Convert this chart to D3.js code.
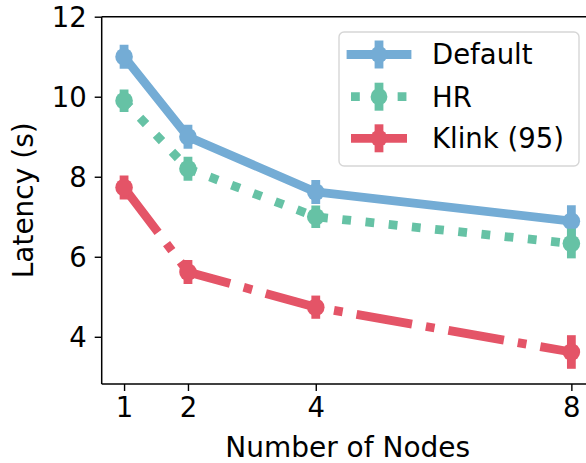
<!DOCTYPE html>
<html>
<head>
<meta charset="utf-8">
<script src="https://cdn.jsdelivr.net/npm/d3@7"></script>
<style>
  body { margin: 0; background: #fff; }
  text { font-family: "DejaVu Sans", sans-serif; fill: #000; }
</style>
</head>
<body>
<svg id="chart" width="586" height="463"></svg>
<script>
// data
const nodes = [1, 2, 4, 8]
const xTicks = [1, 2, 4, 8]
const yTicks = [4, 6, 8, 10, 12]

const seriesNames = ["Default", "HR", "Klink (95)"]
const defaultLat = [11.0, 9.0, 7.62, 6.89]
const defaultErr = [0.3, 0.3, 0.3, 0.4]
const hrLat = [9.9, 8.2, 7.0, 6.33]
const hrErr = [0.28, 0.3, 0.28, 0.37]
const klinkLat = [7.73, 5.62, 4.74, 3.62]
const klinkErr = [0.3, 0.3, 0.29, 0.42]

const colors = ["#74acd5", "#66c2a5", "#e45467"]
const lw = 8.8
const dashes = [null, lw + "," + (lw * 1.65), (lw * 6.4) + "," + (lw * 1.6) + "," + lw + "," + (lw * 1.6)]

const series = [
    { name: seriesNames[0], y: defaultLat, e: defaultErr },
    { name: seriesNames[1], y: hrLat, e: hrErr },
    { name: seriesNames[2], y: klinkLat, e: klinkErr }
]

const svg = d3.select("#chart")

// plot area
const plotLeft = 101.7, plotTop = 16.7, plotBottom = 384
const x = d3.scaleLinear().domain([0.65, 8.35]).range([plotLeft, plotLeft + 7.7 * 63.9])
const y = d3.scaleLinear().domain([2.82, 12]).range([plotBottom, plotTop])

svg.append("clipPath").attr("id", "clip")
    .append("rect")
    .attr("x", plotLeft).attr("y", plotTop)
    .attr("width", x.range()[1] - plotLeft).attr("height", plotBottom - plotTop)

const plot = svg.append("g").attr("clip-path", "url(#clip)")

const line = d3.line()
    .x((d, i) => x(nodes[i]))
    .y(d => y(d))

series.forEach(function (s, k) {
    var g = plot.append("g")
    g.append("path")
        .attr("d", line(s.y))
        .attr("fill", "none")
        .attr("stroke", colors[k])
        .attr("stroke-width", lw)
        .attr("stroke-linejoin", "round")
        .attr("stroke-linecap", k == 0 ? "square" : "butt")
        .attr("stroke-dasharray", dashes[k])

    // error bars
    g.selectAll(".err")
        .data(s.y)
        .enter()
        .append("line")
        .attr("x1", (d, i) => x(nodes[i]))
        .attr("x2", (d, i) => x(nodes[i]))
        .attr("y1", (d, i) => y(d + s.e[i]))
        .attr("y2", (d, i) => y(d - s.e[i]))
        .attr("stroke", colors[k])
        .attr("stroke-width", lw)

    g.selectAll(".pt")
        .data(s.y)
        .enter()
        .append("circle")
        .attr("cx", (d, i) => x(nodes[i]))
        .attr("cy", d => y(d))
        .attr("r", 8.8)
        .attr("fill", colors[k])
})

// axes
const xAxis = d3.axisBottom(x).tickValues(xTicks).tickSize(7).tickPadding(6).tickFormat(d3.format("d"))
const yAxis = d3.axisLeft(y).tickValues(yTicks).tickSize(7).tickPadding(8).tickFormat(d3.format("d"))

const gx = svg.append("g").attr("transform", "translate(0," + plotBottom + ")").call(xAxis)
const gy = svg.append("g").attr("transform", "translate(" + plotLeft + ",0)").call(yAxis)

for (const g of [gx, gy]) {
    g.select(".domain").remove()
    g.selectAll(".tick line").attr("stroke", "#000").attr("stroke-width", 1.4)
    g.selectAll(".tick text").style("font-size", "27.5px").attr("fill", "#000")
}
gy.selectAll(".tick text").attr("dy", "0.36em")

// spines (right one falls outside the picture)
svg.append("line").attr("x1", plotLeft).attr("x2", plotLeft).attr("y1", plotTop).attr("y2", plotBottom)
    .attr("stroke", "#000").attr("stroke-width", 1.5)
svg.append("line").attr("x1", plotLeft).attr("x2", 586).attr("y1", plotBottom).attr("y2", plotBottom)
    .attr("stroke", "#000").attr("stroke-width", 1.5)
svg.append("line").attr("x1", plotLeft).attr("x2", 586).attr("y1", plotTop).attr("y2", plotTop)
    .attr("stroke", "#000").attr("stroke-width", 1.5)

// labels
svg.append("text")
    .attr("x", (x.range()[0] + x.range()[1]) / 2).attr("y", 457)
    .attr("text-anchor", "middle")
    .style("font-size", "28px")
    .text("Number of Nodes")

svg.append("text")
    .attr("transform", "translate(33," + ((plotTop + plotBottom) / 2) + ") rotate(-90)")
    .attr("text-anchor", "middle")
    .style("font-size", "28px")
    .text("Latency (s)")

// legend
const leg = svg.append("g")
leg.append("rect")
    .attr("x", 339).attr("y", 32).attr("width", 240).attr("height", 134)
    .attr("rx", 5)
    .attr("fill", "#fff").attr("fill-opacity", 0.8)
    .attr("stroke", "#d6d6d6").attr("stroke-width", 1.4)

const legY = [54.5, 96.7, 138.3]
series.forEach(function (s, k) {
    var row = leg.append("g").attr("transform", "translate(0," + legY[k] + ")")
    row.append("line")
        .attr("x1", 351).attr("x2", 407).attr("y1", 0).attr("y2", 0)
        .attr("stroke", colors[k]).attr("stroke-width", lw)
        .attr("stroke-linecap", k == 0 ? "square" : "butt")
        .attr("stroke-dasharray", dashes[k])
    row.append("line")
        .attr("x1", 379).attr("x2", 379).attr("y1", -14).attr("y2", 14)
        .attr("stroke", colors[k]).attr("stroke-width", lw)
    row.append("circle")
        .attr("cx", 379).attr("cy", 0).attr("r", 8.4)
        .attr("fill", colors[k])
    row.append("text")
        .attr("x", 432).attr("y", 0).attr("dy", "0.36em")
        .style("font-size", "27.5px")
        .text(s.name)
})
</script>
</body>
</html>
